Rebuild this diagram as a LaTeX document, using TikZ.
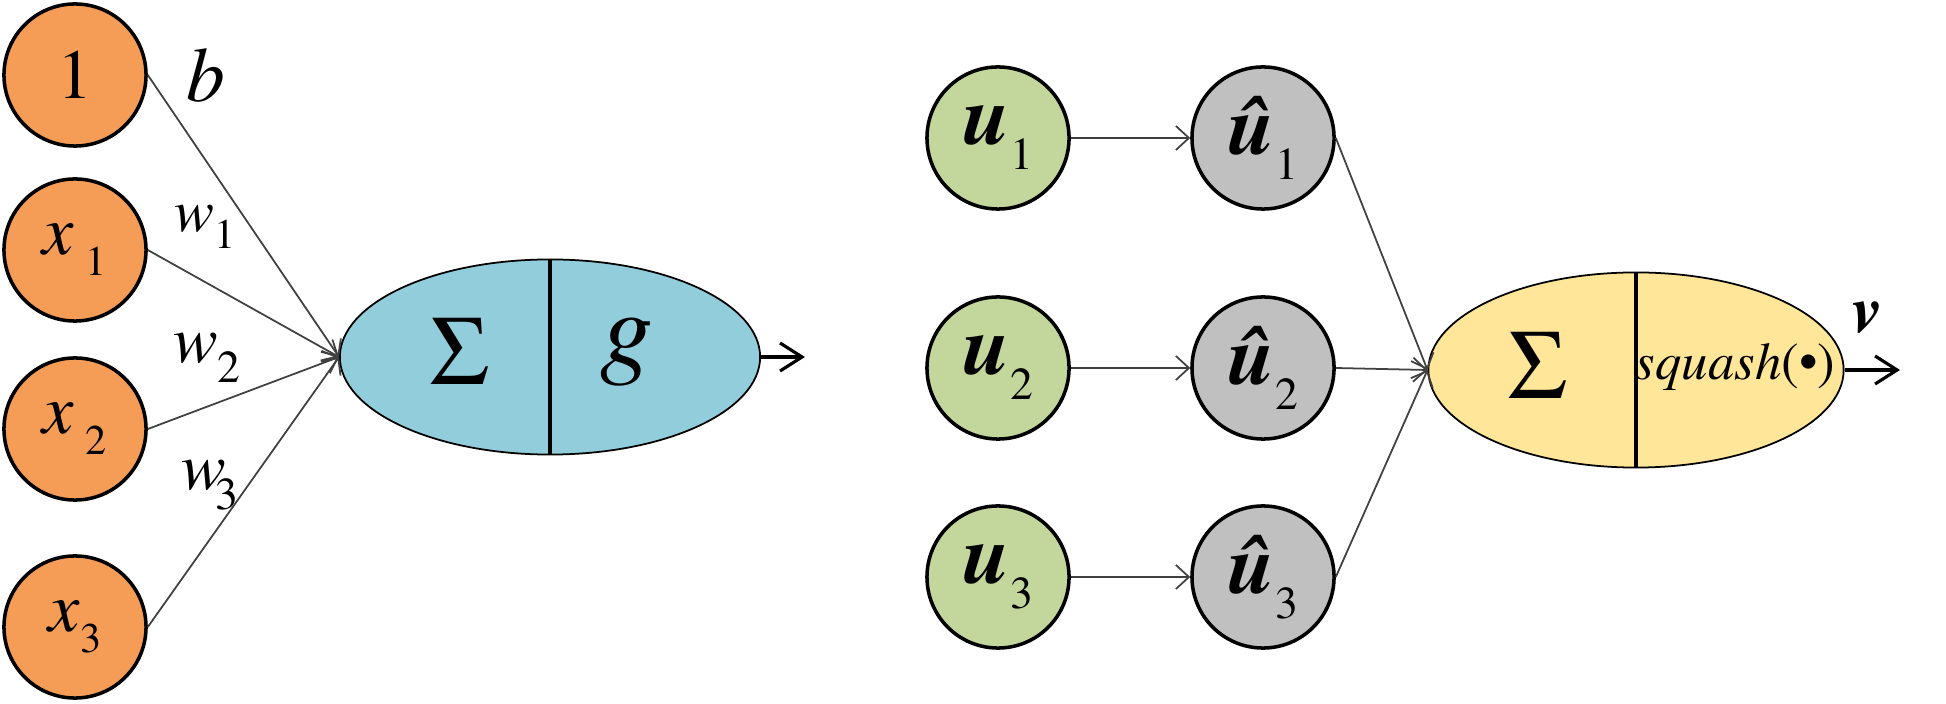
\documentclass[tikz,border=0pt]{standalone}
\usepackage[T1]{fontenc}
\usepackage{mathptmx}
\usetikzlibrary{shapes.geometric,arrows.meta}
\definecolor{corange}{HTML}{F59D56}
\definecolor{cblue}{HTML}{92CDDC}
\definecolor{cgreen}{HTML}{C3D69B}
\definecolor{cgray}{HTML}{C0C0C0}
\definecolor{cyellow}{HTML}{FFE699}
\newcommand{\fs}[1]{\fontsize{#1}{#1}\selectfont}
\newcommand{\sbs}[2]{\raisebox{-0.3em}{\fs{#1}#2}}
\begin{document}
\begin{tikzpicture}[x=0.01cm,y=-0.01cm,
  neuron/.style={circle,draw,line width=1pt,minimum size=1.42cm,inner sep=0pt},
  inp/.style={neuron,fill=corange},
  caps/.style={neuron,fill=cgreen},
  pred/.style={neuron,fill=cgray},
  blob/.style={ellipse,draw,line width=0.5pt,inner sep=0pt,minimum width=4.2cm,minimum height=1.95cm},
  divider/.style={line width=0.9pt},
  conn/.style={draw=black!75,line width=0.5pt,-{Straight Barb[length=1.3mm,width=2.4mm]}},
  outarr/.style={draw=black,line width=0.9pt,-{Straight Barb[length=2.2mm,width=2.8mm,line width=0.9pt]}},
  lbl/.style={inner sep=0pt}]
\useasboundingbox (0,0) rectangle (1946,704);
% left network
\node[inp] (one) at (75,75) {\fs{20}1};
\node[inp] (x1) at (75,250) {\fs{20}\itshape x\,\sbs{12}{\upshape 1}};
\node[inp] (x2) at (75,429) {\fs{20}\itshape x\,\sbs{12}{\upshape 2}};
\node[inp] (x3) at (75,627) {\fs{20}\itshape x\sbs{12}{\upshape 3}};
\node[blob,fill=cblue] (sum1) at (550,357) {};
\draw[divider] (sum1.north) -- (sum1.south);
\node[lbl] (sig1) at (460,352) {\fs{28}$\Sigma$};
\node[lbl] (g) at (627,352) {\fs{30}\itshape g};
\coordinate (o1) at (805,357);
\draw[outarr] (sum1.east) -- (o1);
\foreach \n in {one,x1,x2,x3} \draw[conn] (\n.east) -- (sum1.west);
\node[lbl] (b) at (206,76) {\fs{22}\itshape b};
\node[lbl] (w1) at (205,227) {\fs{17}\itshape w\sbs{12}{\upshape 1}};
\node[lbl] (w2) at (207,358) {\fs{19}\itshape w\sbs{13}{\upshape 2}};
\node[lbl] (w3) at (210,485) {\fs{19}\itshape w\hspace{-0.15em}\sbs{13}{\upshape 3}};
% right network
\node[caps] (u1) at (998,138) {\fs{24}\bfseries\itshape u\sbs{13}{\mdseries\upshape 1}};
\node[caps] (u2) at (998,368) {\fs{24}\bfseries\itshape u\sbs{13}{\mdseries\upshape 2}};
\node[caps] (u3) at (998,577) {\fs{24}\bfseries\itshape u\sbs{13}{\mdseries\upshape 3}};
\node[pred] (h1) at (1263,138) {\fs{24}\bfseries\itshape \^u\sbs{13}{\mdseries\upshape 1}};
\node[pred] (h2) at (1263,368) {\fs{24}\bfseries\itshape \^u\sbs{13}{\mdseries\upshape 2}};
\node[pred] (h3) at (1263,577) {\fs{24}\bfseries\itshape \^u\sbs{13}{\mdseries\upshape 3}};
\node[blob,fill=cyellow,minimum width=4.15cm] (sum2) at (1636,370) {};
\draw[divider] (sum2.north) -- (sum2.south);
\node[lbl] (sig2) at (1538,366) {\fs{28}$\Sigma$};
\node[lbl] (sq) at (1735,367) {\fs{15}\itshape squash\upshape(\textbullet)};
\node[lbl] (v) at (1867,318) {\fs{19}\bfseries\itshape v};
\coordinate (o2) at (1900,370);
\draw[outarr] (sum2.east) -- (o2);
\foreach \i in {1,2,3} {
  \draw[conn] (u\i) -- (h\i);
  \draw[conn] (h\i.east) -- (sum2.west);
}
\end{tikzpicture}
\end{document}
